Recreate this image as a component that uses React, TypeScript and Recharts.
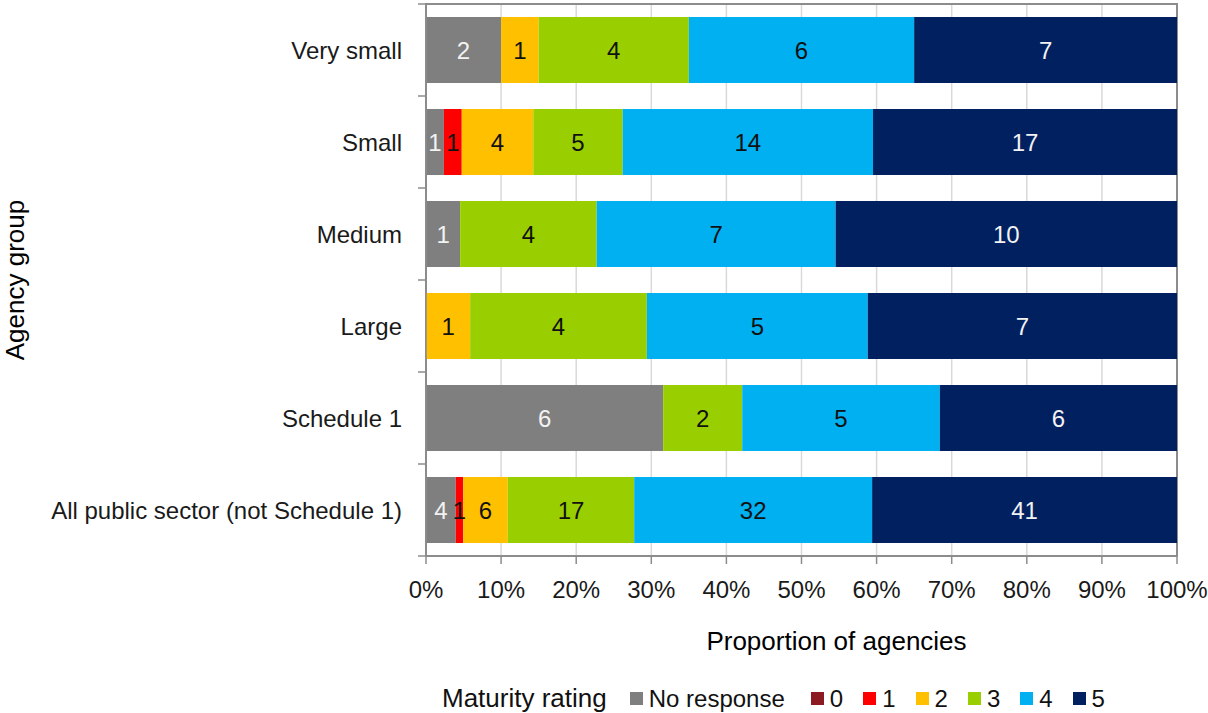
import React from 'react';
import {
  BarChart,
  Bar,
  XAxis,
  YAxis,
  CartesianGrid,
  Legend,
  LabelList,
  ReferenceArea,
  Label,
} from 'recharts';

const groups = [
  'Very small',
  'Small',
  'Medium',
  'Large',
  'Schedule 1',
  'All public sector (not Schedule 1)',
];
const noResponse = [2, 1, 1, 0, 6, 4];
const rating0 = [0, 0, 0, 0, 0, 0];
const rating1 = [0, 1, 0, 0, 0, 1];
const rating2 = [1, 4, 0, 1, 0, 6];
const rating3 = [4, 5, 4, 4, 2, 17];
const rating4 = [6, 14, 7, 5, 5, 32];
const rating5 = [7, 17, 10, 7, 6, 41];
const xTicks = [0, 0.1, 0.2, 0.3, 0.4, 0.5, 0.6, 0.7, 0.8, 0.9, 1];

const seriesDefs = [
  { key: 'nr', name: 'No response', values: noResponse, color: '#7f7f7f', text: '#f2f2f2' },
  { key: 'r0', name: '0', values: rating0, color: '#8c1a22', text: '#f2f2f2' },
  { key: 'r1', name: '1', values: rating1, color: '#ff0000', text: '#111111' },
  { key: 'r2', name: '2', values: rating2, color: '#ffc000', text: '#111111' },
  { key: 'r3', name: '3', values: rating3, color: '#99cf00', text: '#111111' },
  { key: 'r4', name: '4', values: rating4, color: '#00b0f0', text: '#111111' },
  { key: 'r5', name: '5', values: rating5, color: '#002060', text: '#f2f2f2' },
];

const data = groups.map((g, i) => {
  const row: Record<string, any> = { group: g };
  seriesDefs.forEach((s) => {
    row[s.key] = s.values[i];
  });
  return row;
});

const FONT = '"Liberation Sans", Arial, Helvetica, sans-serif';
const AXIS_COLOR = '#8c8c8c';

const makeLabel = (textColor: string) => (props: any) => {
  const { x, y, width, height, value } = props;
  if (!value) return null;
  return (
    <text
      x={Number(x) + Number(width) / 2}
      y={Number(y) + Number(height) / 2}
      textAnchor="middle"
      dominantBaseline="central"
      fill={textColor}
      fontSize={24}
      fontFamily={FONT}
    >
      {value}
    </text>
  );
};

const YTick = (props: any) => {
  const { x, y, payload, index } = props;
  const half = payload && typeof payload.offset === 'number' ? payload.offset : 46;
  const ax = x + 24;
  return (
    <g>
      <text
        x={x}
        y={y}
        textAnchor="end"
        dominantBaseline="central"
        fill="#1a1a1a"
        fontSize={24}
        fontFamily={FONT}
      >
        {payload.value}
      </text>
      <line x1={ax - 8} x2={ax} y1={y - half} y2={y - half} stroke={AXIS_COLOR} strokeWidth={1.5} />
      {index === groups.length - 1 ? (
        <line x1={ax - 8} x2={ax} y1={y + half} y2={y + half} stroke={AXIS_COLOR} strokeWidth={1.5} />
      ) : null}
    </g>
  );
};

const LegendContent = () => {
  return (
    <div
      style={{
        display: 'flex',
        alignItems: 'center',
        fontFamily: FONT,
        color: '#111',
        whiteSpace: 'nowrap',
      }}
    >
      <span style={{ fontSize: 26, marginRight: 23 }}>Maturity rating</span>
      {seriesDefs.map((s, i) => (
        <span
          key={s.key}
          style={{ display: 'flex', alignItems: 'center', marginRight: i === 0 ? 26 : 20, fontSize: 24 }}
        >
          <span
            style={{
              display: 'inline-block',
              width: 13,
              height: 13,
              background: s.color,
              marginRight: 6,
            }}
          />
          <span>{s.name}</span>
        </span>
      ))}
    </div>
  );
};

export default function App() {
  return (
    <div style={{ position: 'absolute', left: 0, top: 0, width: 1208, height: 713, background: '#fff' }}>
      <BarChart
        width={1208}
        height={713}
        data={data}
        layout="vertical"
        stackOffset="expand"
        barSize={66}
        margin={{ top: 4, right: 31, bottom: 57, left: 0 }}
        style={{ overflow: 'visible' }}
      >
        <CartesianGrid
          horizontal={false}
          vertical={true}
          stroke="#d9d9d9"
          strokeWidth={1.5}
        />
        <XAxis
          type="number"
          domain={[0, 1]}
          ticks={xTicks}
          tickFormatter={(v: number) => `${Math.round(v * 100)}%`}
          height={100}
          tickSize={8}
          tickMargin={17}
          axisLine={{ stroke: AXIS_COLOR, strokeWidth: 1.5 }}
          tickLine={{ stroke: AXIS_COLOR, strokeWidth: 1.5 }}
          tick={{ fill: '#1a1a1a', fontSize: 24, fontFamily: FONT }}
          interval={0}
        >
          <Label
            value="Proportion of agencies"
            position="insideBottom"
            offset={6}
            dx={35}
            style={{ fill: '#000', fontSize: 26, fontFamily: FONT }}
          />
        </XAxis>
        <YAxis
          type="category"
          dataKey="group"
          width={426}
          tickSize={8}
          tickMargin={16}
          tickLine={false}
          axisLine={{ stroke: AXIS_COLOR, strokeWidth: 1.5 }}
          tick={<YTick />}
          interval={0}
        >
          <Label
            value="Agency group"
            angle={-90}
            position="insideLeft"
            offset={15}
            style={{ fill: '#000', fontSize: 26, fontFamily: FONT, textAnchor: 'middle' }}
          />
        </YAxis>
        {seriesDefs.map((s) => (
          <Bar
            key={s.key}
            dataKey={s.key}
            name={s.name}
            stackId="a"
            fill={s.color}
            isAnimationActive={false}
          >
            <LabelList dataKey={s.key} content={makeLabel(s.text)} />
          </Bar>
        ))}
        <ReferenceArea
          x1={0}
          x2={1}
          fill="none"
          fillOpacity={0}
          stroke={AXIS_COLOR}
          strokeWidth={2}
          ifOverflow="visible"
        />
        <Legend
          layout="horizontal"
          verticalAlign="middle"
          align="center"
          content={<LegendContent />}
          wrapperStyle={{ left: 442, top: 683, width: 760, height: 30 }}
        />
      </BarChart>
    </div>
  );
}
